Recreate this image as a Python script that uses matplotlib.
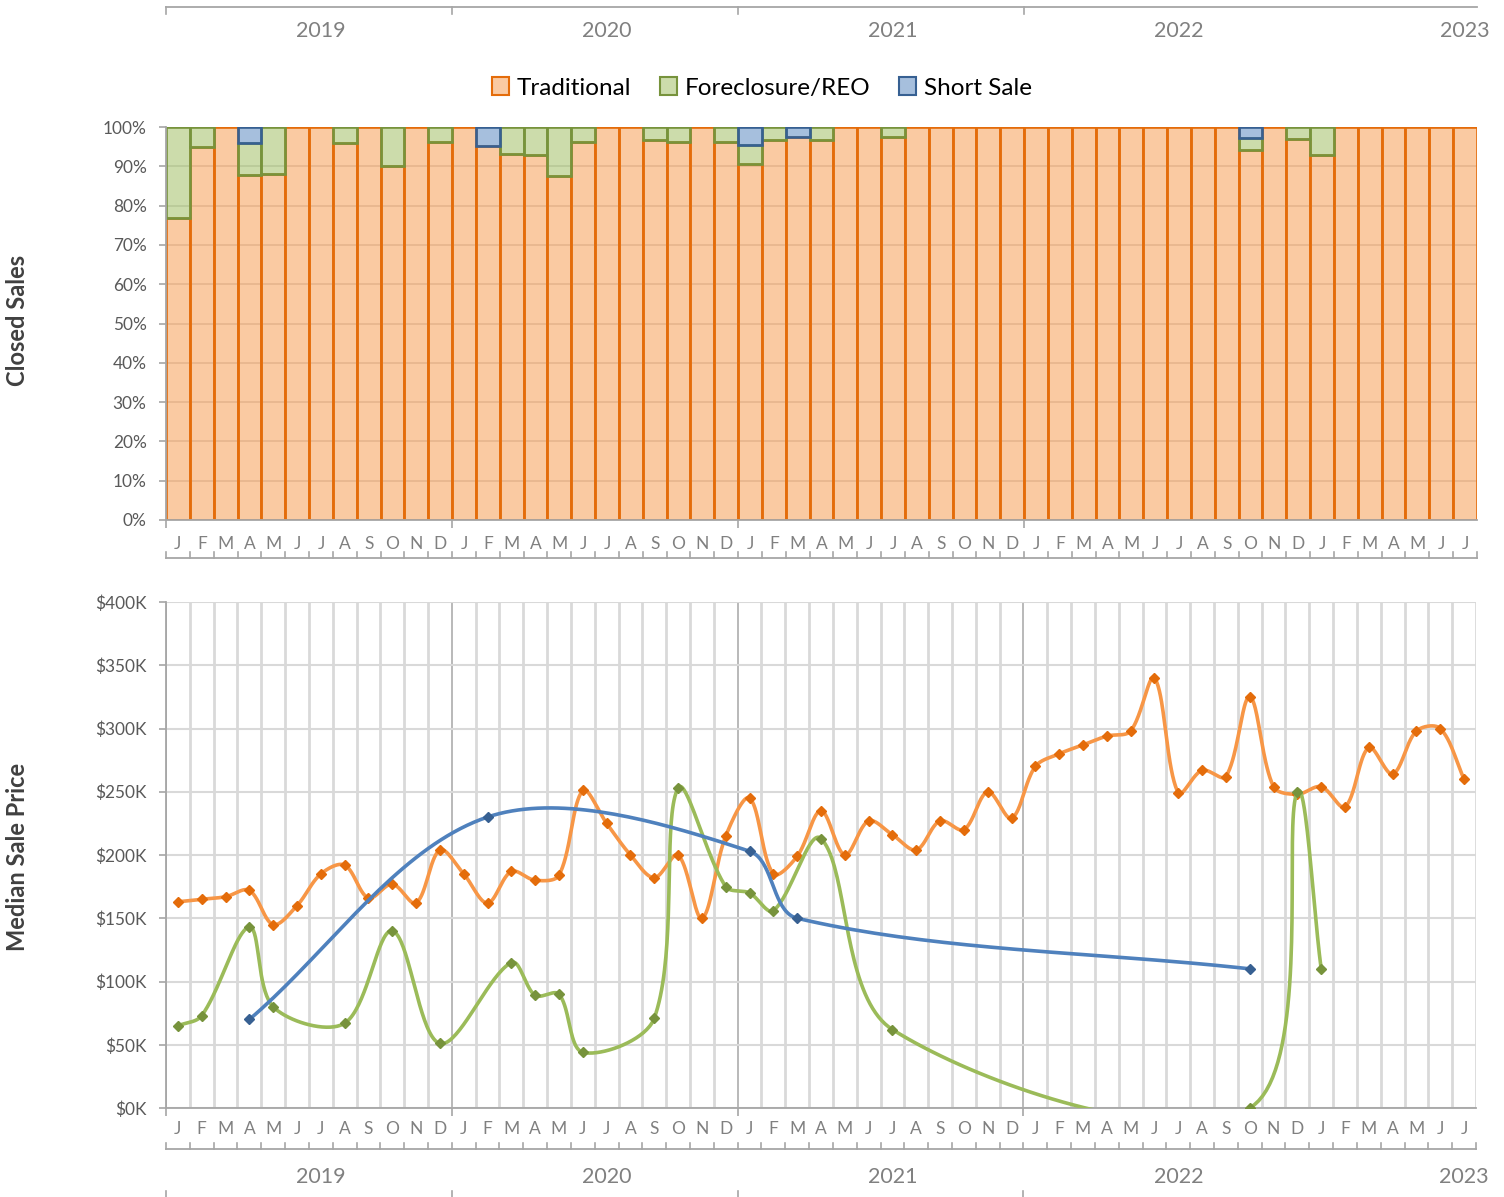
import numpy as np
import matplotlib
matplotlib.use("Agg")
import matplotlib.pyplot as plt
from matplotlib import transforms
from matplotlib.patches import Patch
from matplotlib.colors import to_rgba

plt.rcParams['font.family'] = ['Lato', 'DejaVu Sans']

# ---------------- data ----------------
months = ["J", "F", "M", "A", "M", "J", "J", "A", "S", "O", "N", "D"] * 4 + ["J", "F", "M", "A", "M", "J", "J"]
years = ["2019", "2020", "2021", "2022", "2023"]

# Closed sales share (%)
trad_pct = [76.9, 95.0, 100, 87.7, 88.0, 100, 100, 96.0, 100, 90.0, 100, 96.3,
            100, 95.2, 93.1, 92.8, 87.5, 96.1, 100, 100, 96.6, 96.2, 100, 96.2,
            90.5, 96.6, 97.5, 96.8, 100, 100, 97.5, 100, 100, 100, 100, 100,
            100, 100, 100, 100, 100, 100, 100, 100, 100, 94.2, 100, 96.9,
            92.9, 100, 100, 100, 100, 100, 100]
fc_pct = [23.1, 5.0, 0, 8.3, 12.0, 0, 0, 4.0, 0, 10.0, 0, 3.7,
          0, 0, 6.9, 7.2, 12.5, 3.9, 0, 0, 3.4, 3.8, 0, 3.8,
          4.8, 3.4, 0, 3.2, 0, 0, 2.5, 0, 0, 0, 0, 0,
          0, 0, 0, 0, 0, 0, 0, 0, 0, 2.9, 0, 3.1,
          7.1, 0, 0, 0, 0, 0, 0]
short_pct = [0, 0, 0, 4.0, 0, 0, 0, 0, 0, 0, 0, 0,
             0, 4.8, 0, 0, 0, 0, 0, 0, 0, 0, 0, 0,
             4.7, 0, 2.5, 0, 0, 0, 0, 0, 0, 0, 0, 0,
             0, 0, 0, 0, 0, 0, 0, 0, 0, 2.9, 0, 0,
             0, 0, 0, 0, 0, 0, 0]

# Median sale price ($K); None = no sales of that type
trad_price = [163, 165, 167, 172, 145, 160, 185, 192, 166, 177, 162, 204,
              185, 162, 187, 180, 184, 251, 225, 200, 182, 200, 150, 215,
              245, 185, 199, 235, 200, 227, 216, 204, 227, 220, 250, 229,
              270, 280, 287, 294, 298, 340, 249, 267, 262, 325, 254, 248,
              254, 238, 285, 264, 298, 300, 260]
fc_price = [65, 73, None, 143, 80, None, None, 67, None, 140, None, 51,
            None, None, 115, 89, 90, 44, None, None, 71, 253, None, 175,
            170, 156, None, 213, None, None, 62, None, None, None, None, None,
            None, None, None, None, None, None, None, None, None, 0, None, 250,
            110, None, None, None, None, None, None]
short_price = [None, None, None, 70, None, None, None, None, None, None, None, None,
               None, 230, None, None, None, None, None, None, None, None, None, None,
               203, None, 150, None, None, None, None, None, None, None, None, None,
               None, None, None, None, None, None, None, None, None, 110, None, None,
               None, None, None, None, None, None, None]

# ---------------- styling ----------------
C_TRAD_LINE, C_TRAD_DARK = "#F79646", "#E46C0A"
C_FC_LINE, C_FC_DARK = "#9BBB59", "#77933C"
C_SS_LINE, C_SS_DARK = "#4F81BD", "#376092"
GRID = "#D9D9D9"
AXC = "#A6A6A6"
TXT = "#595959"
TXT2 = "#808080"

W, H = 1504, 1197
fig = plt.figure(figsize=(W / 100, H / 100), dpi=100)


def fx(px):
    return px / W


def fy(py):
    return 1 - py / H


ax1 = fig.add_axes([fx(166), fy(520), fx(1477) - fx(166), fy(127) - fy(520)])
ax2 = fig.add_axes([fx(166), fy(1108), fx(1476) - fx(166), fy(602) - fy(1108)])

n = len(months)
x = np.arange(n)
xlim = (-0.5, n - 0.5)
year_bounds = [-0.5 + 12 * k for k in range(len(years) - 1)]
year_label_x = [6 + 12 * k for k in range(len(years))]

# ---------------- top: stacked 100% bars ----------------
trad = np.array(trad_pct, float)
fc = np.array(fc_pct, float)
ss = np.array(short_pct, float)


def draw_bars(ax, vals, bottom, line_c, dark_c):
    m = vals > 0
    ax.bar(x[m], vals[m], bottom=bottom[m], width=1.0,
           facecolor=to_rgba(line_c, 0.5), edgecolor=dark_c, linewidth=1.9, zorder=2)


draw_bars(ax1, trad, np.zeros(n), C_TRAD_LINE, C_TRAD_DARK)
draw_bars(ax1, fc, trad, C_FC_LINE, C_FC_DARK)
draw_bars(ax1, ss, trad + fc, C_SS_LINE, C_SS_DARK)

ax1.set_xlim(*xlim)
ax1.set_ylim(0, 100)
ax1.set_yticks(np.arange(0, 101, 10))
ax1.set_yticklabels([f"{v}%" for v in range(0, 101, 10)])
ax1.yaxis.grid(True, color=GRID, lw=1.3, zorder=0)
ax1.set_axisbelow(True)
for s in ["top", "right"]:
    ax1.spines[s].set_visible(False)
for s in ["left", "bottom"]:
    ax1.spines[s].set_color(AXC)
    ax1.spines[s].set_linewidth(1.3)
ax1.tick_params(axis="y", length=5, width=1.2, color=AXC, pad=9, labelsize=12.4, labelcolor=TXT)
ax1.set_xticks(year_bounds)
ax1.set_xticklabels([])
ax1.tick_params(axis="x", length=6, width=1.2, color=AXC)

# ---------------- bottom: median price lines ----------------
ax2.set_xlim(*xlim)
ax2.set_ylim(0, 400)
ax2.set_autoscale_on(False)
ax2.set_yticks(np.arange(0, 401, 50))
ax2.set_yticklabels([f"${v}K" for v in range(0, 401, 50)])
ax2.set_xticks(year_bounds)
ax2.set_xticklabels([])
ax2.set_xticks(np.arange(-0.5, n, 1.0), minor=True)
ax2.yaxis.grid(True, color=GRID, lw=1.5, zorder=0)
ax2.xaxis.grid(True, which="minor", color=GRID, lw=2.0, zorder=0)
ax2.xaxis.grid(True, which="major", color=AXC, lw=1.1, zorder=0)
ax2.set_axisbelow(True)
for s in ["top", "right"]:
    ax2.spines[s].set_visible(False)
for s in ["left", "bottom"]:
    ax2.spines[s].set_color(AXC)
    ax2.spines[s].set_linewidth(1.3)
ax2.tick_params(axis="y", length=5, width=1.2, color=AXC, pad=9, labelsize=12.4, labelcolor=TXT)
ax2.tick_params(axis="x", which="major", length=6, width=1.2, color=AXC)
ax2.tick_params(axis="x", which="minor", length=0)


def smooth_path(ax, xs, ys, steps=40):
    """Excel-like smoothed line through the points (Bezier, chord-scaled tangents)."""
    pts = ax.transData.transform(np.column_stack([xs, ys]).astype(float))
    npt = len(pts)
    out = [pts[0]]
    t = np.linspace(0, 1, steps)[1:, None]
    for i in range(npt - 1):
        p0 = pts[max(i - 1, 0)]
        p1 = pts[i]
        p2 = pts[i + 1]
        p3 = pts[min(i + 2, npt - 1)]
        d01 = np.hypot(*(p1 - p0))
        d12 = np.hypot(*(p2 - p1))
        d23 = np.hypot(*(p3 - p2))
        c1 = p1 + (p2 - p0) * d12 / (3 * (d01 + d12))
        c2 = p2 - (p3 - p1) * d12 / (3 * (d12 + d23))
        seg = (1 - t) ** 3 * p1 + 3 * (1 - t) ** 2 * t * c1 + 3 * (1 - t) * t ** 2 * c2 + t ** 3 * p2
        out.extend(seg)
    return ax.transData.inverted().transform(np.array(out))


def draw_series(ax, vals, line_c, dark_c, z):
    m = np.array([v is not None for v in vals])
    xs = x[m]
    ys = np.array([v for v in vals if v is not None], float)
    sm = smooth_path(ax, xs, ys)
    ax.plot(sm[:, 0], sm[:, 1], color=line_c, lw=2.6, solid_capstyle="round", zorder=z)
    ax.plot(xs, ys, linestyle="none", marker="D", ms=5.5, color=dark_c, zorder=z + 0.5)


draw_series(ax2, trad_price, C_TRAD_LINE, C_TRAD_DARK, 3)
draw_series(ax2, fc_price, C_FC_LINE, C_FC_DARK, 4)
draw_series(ax2, short_price, C_SS_LINE, C_SS_DARK, 5)

# ---------------- category axes (months / years) ----------------
def month_axis(ax, y_lab, y_line):
    tr = transforms.blended_transform_factory(ax.transData, fig.transFigure)
    for i, mth in enumerate(months):
        ax.text(i, fy(y_lab), mth, transform=tr, ha="center", va="center",
                fontsize=12.5, color=TXT2, clip_on=False)
    ax.plot(list(xlim), [fy(y_line)] * 2, transform=tr, color=AXC, lw=1.3, clip_on=False)
    for b in np.arange(-0.5, n, 1.0):
        ax.plot([b, b], [fy(y_line), fy(y_line - 6)], transform=tr, color=AXC, lw=1.2, clip_on=False)


month_axis(ax1, 544, 558)
month_axis(ax2, 1129, 1149)

tr1 = transforms.blended_transform_factory(ax1.transData, fig.transFigure)
ax1.plot(list(xlim), [fy(7)] * 2, transform=tr1, color=AXC, lw=1.3, clip_on=False)
for b in year_bounds:
    ax1.plot([b, b], [fy(7), fy(14)], transform=tr1, color=AXC, lw=1.2, clip_on=False)
for xi, yr in zip(year_label_x, years):
    ax1.text(xi, fy(31), yr, transform=tr1, ha="center", va="center", fontsize=15.5, color=TXT2)

tr2 = transforms.blended_transform_factory(ax2.transData, fig.transFigure)
for xi, yr in zip(year_label_x, years):
    ax2.text(xi, fy(1177), yr, transform=tr2, ha="center", va="center", fontsize=15.5, color=TXT2)
for b in year_bounds:
    ax2.plot([b, b], [fy(1191), fy(1200)], transform=tr2, color=AXC, lw=1.2, clip_on=False)

# ---------------- legend & axis titles ----------------
handles = [Patch(facecolor=to_rgba(C_TRAD_LINE, 0.5), edgecolor=C_TRAD_DARK, lw=1.5, label="Traditional"),
           Patch(facecolor=to_rgba(C_FC_LINE, 0.5), edgecolor=C_FC_DARK, lw=1.5, label="Foreclosure/REO"),
           Patch(facecolor=to_rgba(C_SS_LINE, 0.5), edgecolor=C_SS_DARK, lw=1.5, label="Short Sale")]
fig.legend(handles=handles, loc="center", bbox_to_anchor=(fx(762), fy(88)), ncol=3, frameon=False,
           fontsize=17.5, handlelength=0.7, handleheight=0.7, handletextpad=0.3, columnspacing=1.2)

fig.text(fx(18), fy(320), "Closed Sales", rotation=90, ha="center", va="center",
         fontsize=17, fontweight="bold", color="#404040")
fig.text(fx(18), fy(857), "Median Sale Price", rotation=90, ha="center", va="center",
         fontsize=17, fontweight="bold", color="#404040")

fig.savefig("out.png", dpi=100)
